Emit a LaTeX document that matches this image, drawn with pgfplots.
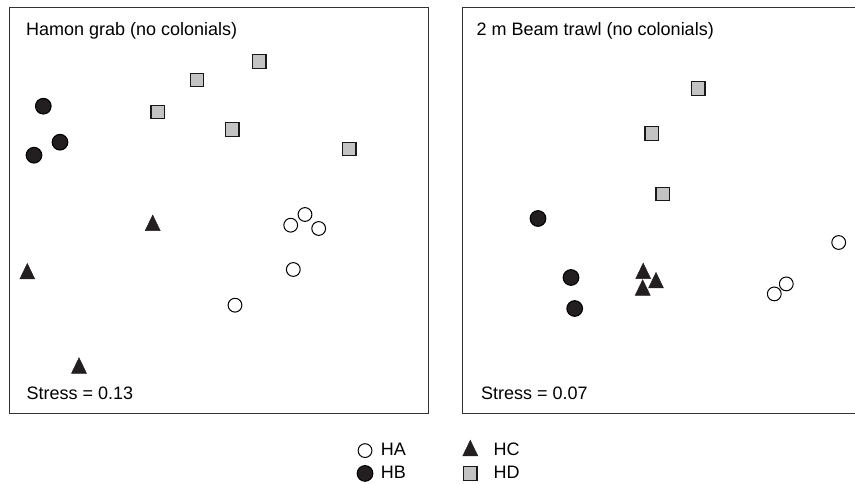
\documentclass[border=0pt]{standalone}
\usepackage{pgfplots}
\pgfplotsset{compat=1.18}
\usepackage{fontspec}
\setmainfont{Liberation Sans}

\definecolor{markdark}{HTML}{231F20}
\definecolor{sqfill}{HTML}{C3C3C3}

\pgfplotsset{
  nmds/.style={
    scale only axis, width=418.7pt, height=405.7pt,
    xmin=0, xmax=418.7, ymin=0, ymax=405.7,
    xtick=\empty, ytick=\empty,
    axis line style={black!80, line width=1pt},
    clip=false,
  },
  % a single symbol as legend key
  onekey/.style={legend image code/.code={%
    \draw[##1] plot coordinates {(0pt,0pt)};}},
  ha/.style={only marks, mark=o, mark size=6.9pt, onekey,
    mark options={draw=black, line width=1pt}},
  hb/.style={only marks, mark=*, mark size=7.8pt, onekey,
    mark options={draw=black, fill=markdark, line width=1.1pt}},
  hc/.style={only marks, mark=triangle*, mark size=8.6pt, onekey,
    mark options={draw=markdark, fill=markdark, line width=0.5pt, yscale=1.2}},
  hd/.style={only marks, mark=square*, mark size=6.7pt, onekey,
    mark options={draw=black!90, fill=sqfill, line width=1.2pt}},
}

\begin{document}
\fontsize{18pt}{21pt}\selectfont
\begin{tikzpicture}
\useasboundingbox (0pt,0pt) rectangle (855pt,483pt);
\clip (0pt,0pt) rectangle (855pt,483pt);

% Hamon grab ordination
\begin{axis}[nmds, at={(9.3pt,69.5pt)}, anchor=south west,
  legend columns=2, transpose legend,
  legend cell align=left,
  legend style={draw=none, fill=none, inner sep=0pt, outer sep=0pt,
    at={(0.831,-0.066)}, anchor=north west,
    nodes={inner sep=0pt}, column sep=8pt, row sep=7.4pt,
    /tikz/every even column/.append style={column sep=57pt}},
]
\addplot[ha] coordinates {(295.7,199.0) (281.4,188.3) (309.4,185.0) (284.0,144.0) (225.7,108.3)};
\addlegendentry{HA}
\addplot[hb] coordinates {(34.0,307.3) (50.7,271.3) (24.7,258.3)};
\addlegendentry{HB}
\addplot[hc] coordinates {(143.4,188.1) (18.0,139.7) (69.7,45.4)};
\addlegendentry{\hspace{8pt}HC}
\addplot[hd] coordinates {(250.0,352.0) (187.7,333.7) (148.4,301.7) (223.0,284.0) (340.0,264.7)};
\addlegendentry{\hspace{8pt}HD}
\node[anchor=base west, inner sep=0pt] at (axis cs:16.6,378) {Hamon grab (no colonials)};
\node[anchor=base west, inner sep=0pt] at (axis cs:17.1,14) {Stress = 0.13};
\end{axis}

% 2 m beam trawl ordination
\begin{axis}[nmds, at={(462.7pt,69.5pt)}, anchor=south west]
\addplot[ha] coordinates {(376.0,171.0) (323.6,129.6) (311.6,119.6)};
\addplot[hb] coordinates {(75.3,195.0) (108.3,136.0) (112.0,105.0)};
\addplot[hc] coordinates {(180.5,140.0) (193.3,130.7) (180.0,123.4)};
\addplot[hd] coordinates {(235.6,325.0) (189.0,280.0) (200.0,219.6)};
\node[anchor=base west, inner sep=0pt] at (axis cs:13.8,378) {2 m Beam trawl (no colonials)};
\node[anchor=base west, inner sep=0pt] at (axis cs:18.1,14) {Stress = 0.07};
\end{axis}
\end{tikzpicture}
\end{document}
